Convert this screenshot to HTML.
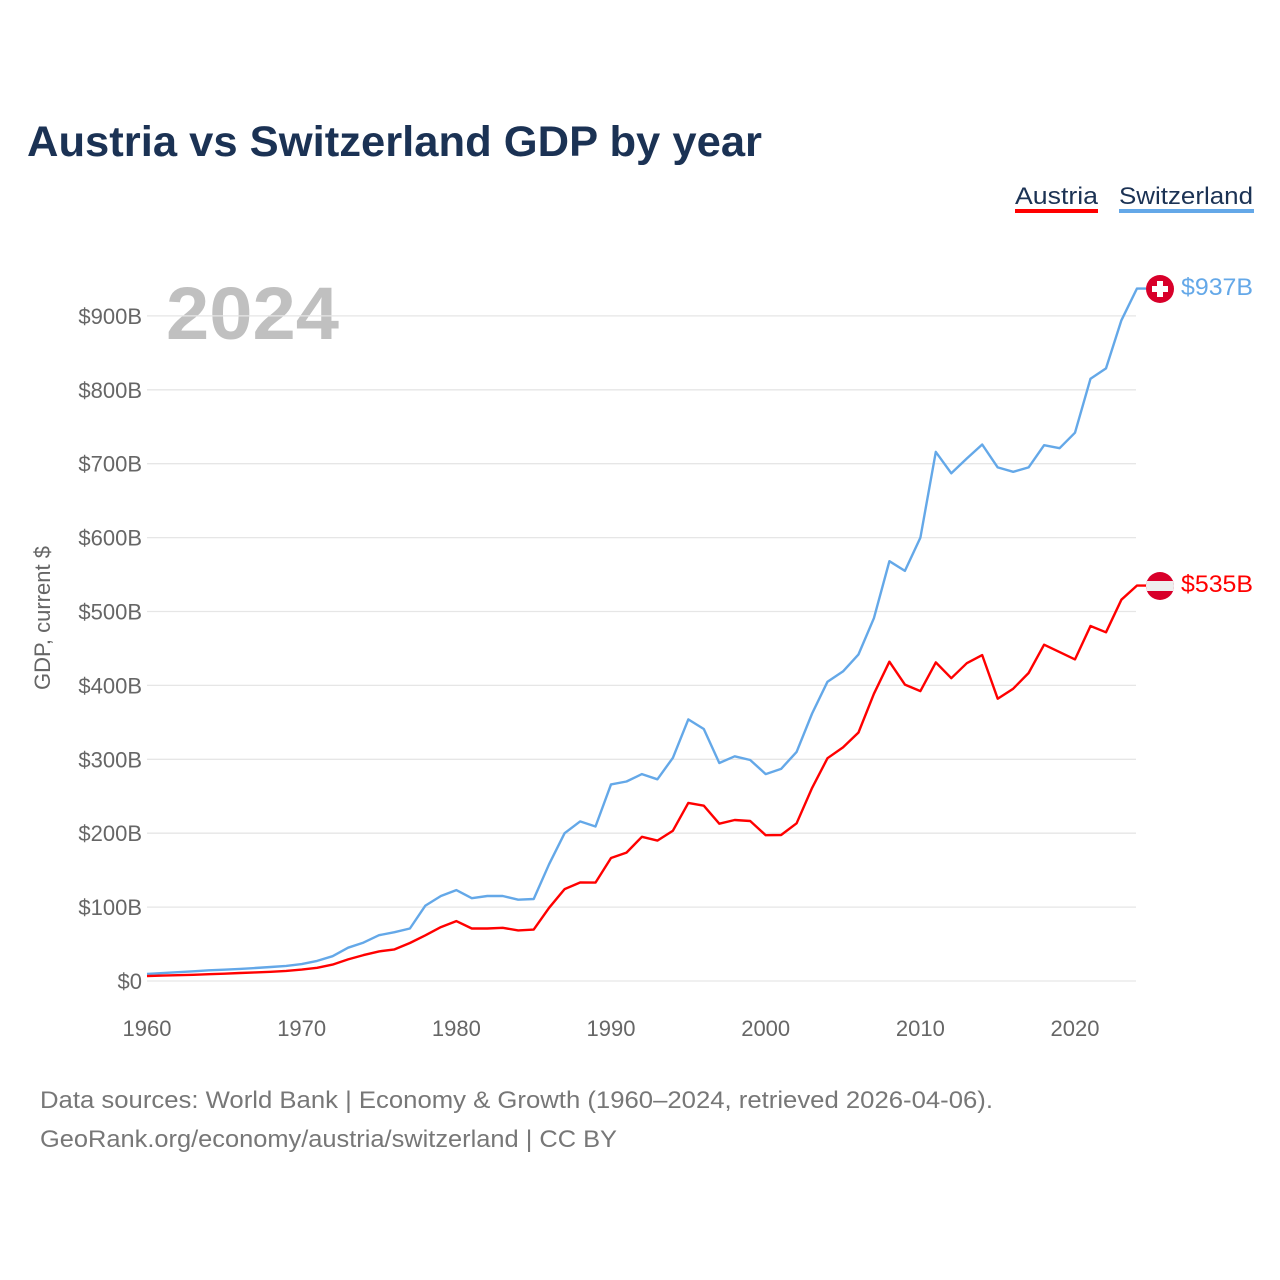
<!DOCTYPE html>
<html><head><meta charset="utf-8"><style>
html,body{margin:0;padding:0;background:#fff;width:1280px;height:1280px;overflow:hidden;font-family:"Liberation Sans",sans-serif}
</style></head><body>
<svg id="chart" width="1280" height="1280" viewBox="0 0 1280 1280" xmlns="http://www.w3.org/2000/svg">
<text x="27" y="156" font-size="43" font-weight="bold" fill="#1b3254" textLength="735" lengthAdjust="spacingAndGlyphs">Austria vs Switzerland GDP by year</text>
<g>
<g>
<text x="1015" y="204" font-size="24" fill="#1b3254" textLength="83" lengthAdjust="spacingAndGlyphs">Austria</text>
<rect x="1015" y="209" width="83" height="4" fill="#ff0000"/></g>
<g>
<text x="1119" y="204" font-size="24" fill="#1b3254" textLength="134" lengthAdjust="spacingAndGlyphs">Switzerland</text>
<rect x="1119" y="209" width="135" height="4" fill="#64a8e8"/></g>
</g>
<text x="166" y="339" font-size="74" font-weight="bold" fill="#c0c0c0" textLength="173" lengthAdjust="spacingAndGlyphs">2024</text>
<g id="grid"></g>
<g id="yt"></g>
<g id="xt"></g>
<text transform="translate(50,618) rotate(-90)" text-anchor="middle" font-size="22" fill="#666">GDP, current $</text>
<g id="series"></g>
<g>
<circle cx="1160" cy="289" r="14" fill="#d8002a"/>
<rect x="1157" y="281" width="6" height="16" fill="#fff"/><rect x="1152" y="286" width="16" height="6" fill="#fff"/></g>
<g>
<clipPath id="cp"><circle cx="1160" cy="586" r="14"/></clipPath>
<g clip-path="url(#cp)"><rect x="1146" y="572" width="28" height="28" fill="#d8002a"/><rect x="1146" y="581" width="28" height="10" fill="#eee"/></g></g>
<text x="1181" y="295" font-size="24" fill="#64a8e8" textLength="72" lengthAdjust="spacingAndGlyphs">$937B</text>
<text x="1181" y="592" font-size="24" fill="#ff0000" textLength="72" lengthAdjust="spacingAndGlyphs">$535B</text>
<text x="40" y="1108" font-size="24" fill="#777" textLength="953" lengthAdjust="spacingAndGlyphs">Data sources: World Bank | Economy &amp; Growth (1960–2024, retrieved 2026-04-06).</text>
<text x="40" y="1147" font-size="24" fill="#777" textLength="577" lengthAdjust="spacingAndGlyphs">GeoRank.org/economy/austria/switzerland | CC BY</text>
</svg>
<script>
const years=[];for(let y=1960;y<=2024;y++)years.push(y);
const switzerland=[9.5,10.7,11.9,13.1,14.5,15.3,16.4,17.6,18.9,20.5,22.9,27.2,33.6,45,52,62,66,71,102,115,123,112,115,115,110,111,158,200,216,209,266,270,280,273,302,354,341,295,304,299,280,287,310,362,405,419,442,491,568,555,600,716,687,707,726,695,689,695,725,721,742,815,829,894,937];
const austria=[6.6,7.3,7.8,8.4,9.2,9.9,10.8,11.6,12.4,13.6,15.4,17.9,22.2,29.2,35.1,40.1,42.8,51.4,61.8,72.9,81,71,71,72,68.5,69.5,99.1,124.3,133.3,133.1,166.5,173.8,195.1,190,203.4,241,237.2,212.8,217.9,216.5,197.3,197.5,213.4,261.3,301.5,316.1,336.3,388.7,432.1,401.1,392.3,431.1,409.8,430.1,441,382,395.6,416.8,455.1,445,435.2,480.4,471.8,516,535];
const yTicks=[0,100,200,300,400,500,600,700,800,900];
const yTickLabels=["$0","$100B","$200B","$300B","$400B","$500B","$600B","$700B","$800B","$900B"];
const xTicks=[1960,1970,1980,1990,2000,2010,2020];
const NS="http://www.w3.org/2000/svg";
const X=y=>147+(y-1960)*15.467;
const Y=v=>981-v*0.739;
function mk(t,a,p){const e=document.createElementNS(NS,t);for(const k in a)e.setAttribute(k,a[k]);p.appendChild(e);return e;}
const grid=document.getElementById('grid'),yt=document.getElementById('yt'),xt=document.getElementById('xt'),ser=document.getElementById('series');
yTicks.forEach((v,i)=>{
 const l=mk('line',{x1:147,x2:1136,y1:Y(v),y2:Y(v),stroke:'#e6e6e6','stroke-width':1.3},grid);
 
 
 const t=mk('text',{x:142,y:Y(v)+8,'text-anchor':'end','font-size':22,fill:'#666'},yt);
 t.textContent=yTickLabels[i];
 
 
});
xTicks.forEach(y=>{
 const t=mk('text',{x:X(y),y:1036,'text-anchor':'middle','font-size':22,fill:'#666'},xt);
 t.textContent=y;
 
 
});
function line(vals,col,name){
 let d=vals.map((v,i)=>(i?'L':'M')+X(years[i]).toFixed(1)+','+Y(v).toFixed(1)).join('');
 d+='L1146,'+Y(vals[vals.length-1]).toFixed(1);
 const p=mk('path',{d:d,fill:'none',stroke:col,'stroke-width':2.4,'stroke-linejoin':'round'},ser);
 
 
}
line(switzerland,'#64a8e8','line-switzerland');
line(austria,'#ff0000','line-austria');
</script>
</body></html>
